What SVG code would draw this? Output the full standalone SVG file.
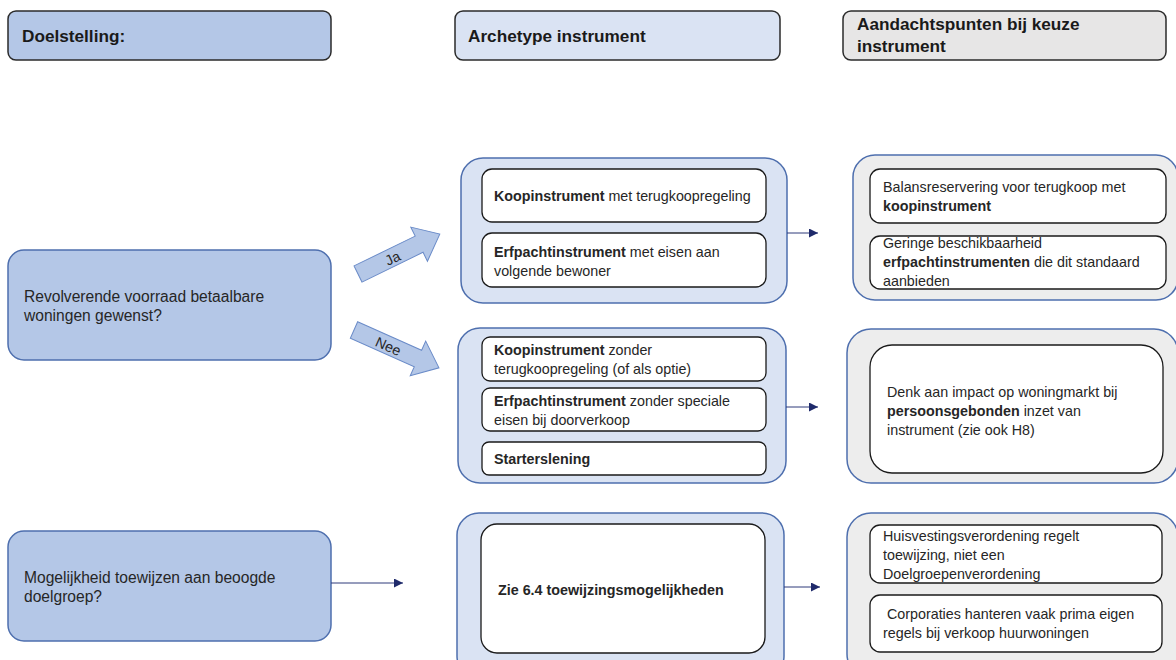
<svg xmlns="http://www.w3.org/2000/svg" width="1176" height="660" viewBox="0 0 1176 660">
<defs>
<style>
.t{font-family:"Liberation Sans",Arial,sans-serif;font-size:14.3px;fill:#262626}
.l{font-size:15.6px}
.h{font-family:"Liberation Sans",Arial,sans-serif;font-size:17.2px;font-weight:bold;fill:#1a1a1a}
.b{font-weight:bold}
.hdr{stroke:#2b2b2b;stroke-width:1.5}
.dark{fill:#B4C7E7;stroke:#4E6FAE;stroke-width:1.5}
.mid{fill:#DAE3F3;stroke:#4E6FAE;stroke-width:1.5}
.gray{fill:#EDEDED;stroke:#4E6FAE;stroke-width:1.5}
.in{fill:#fff;stroke:#1a1a1a;stroke-width:1.3}
.con{stroke:#2E3B7A;stroke-width:1;fill:none}
.blk{fill:#B4C7E7;stroke:#6A8BC8;stroke-width:1}
</style>
<marker id="ah" viewBox="0 0 10 10" refX="10" refY="5" markerWidth="9" markerHeight="9" markerUnits="userSpaceOnUse" orient="auto">
<path d="M0,0 L10,5 L0,10 z" fill="#1F2A6B"/>
</marker>
</defs>
<rect width="1176" height="660" fill="#fff"/>

<g id="hdr-doel">
<rect class="hdr" x="8" y="11" width="323" height="49" rx="8" fill="#B4C7E7"/>
<text class="h" x="22" y="42">Doelstelling:</text>
</g>
<g id="hdr-arch">
<rect class="hdr" x="455" y="11" width="325" height="49" rx="8" fill="#DAE3F3"/>
<text class="h" x="468" y="42">Archetype instrument</text>
</g>
<g id="hdr-aand">
<rect class="hdr" x="843" y="11" width="323" height="49" rx="8" fill="#E7E6E6"/>
<text class="h" x="857" y="30">Aandachtspunten bij keuze</text>
<text class="h" x="857" y="52">instrument</text>
</g>

<g id="q-revolverend">
<rect class="dark" x="8" y="250" width="323" height="110" rx="16"/>
<text class="t l" x="24" y="302">Revolverende voorraad betaalbare</text>
<text class="t l" x="24" y="321">woningen gewenst?</text>
</g>
<g id="q-toewijzen">
<rect class="dark" x="8" y="531" width="323" height="110" rx="16"/>
<text class="t l" x="24" y="583">Mogelijkheid toewijzen aan beoogde</text>
<text class="t l" x="24" y="602">doelgroep?</text>
</g>

<g id="arrow-ja" transform="translate(358,274) rotate(-26)">
<polygon class="blk" points="0,-9 68,-9 68,-19 91,0 68,19 68,9 0,9"/>
<text class="t" x="38" y="6" text-anchor="middle" font-size="15">Ja</text>
</g>
<g id="arrow-nee" transform="translate(354,330) rotate(24)">
<polygon class="blk" points="0,-9 70,-9 70,-19 93,0 70,19 70,9 0,9"/>
<text class="t" x="38" y="6" text-anchor="middle" font-size="15">Nee</text>
</g>

<g id="mid-ja">
<rect class="mid" x="461" y="158" width="326" height="145" rx="22"/>
<rect class="in" x="482" y="169" width="284" height="53" rx="10"/>
<text class="t" x="494" y="201"><tspan class="b">Koopinstrument</tspan> met terugkoopregeling</text>
<rect class="in" x="482" y="233" width="284" height="54" rx="10"/>
<text class="t" x="494" y="257"><tspan class="b">Erfpachtinstrument</tspan> met eisen aan</text>
<text class="t" x="494" y="276">volgende bewoner</text>
</g>

<g id="mid-nee">
<rect class="mid" x="458" y="328" width="328" height="155" rx="22"/>
<rect class="in" x="482" y="337" width="284" height="44" rx="8"/>
<text class="t" x="494" y="355"><tspan class="b">Koopinstrument</tspan> zonder</text>
<text class="t" x="494" y="374">terugkoopregeling (of als optie)</text>
<rect class="in" x="482" y="388" width="284" height="43" rx="8"/>
<text class="t" x="494" y="406"><tspan class="b">Erfpachtinstrument</tspan> zonder speciale</text>
<text class="t" x="494" y="425">eisen bij doorverkoop</text>
<rect class="in" x="482" y="442" width="284" height="33" rx="7"/>
<text class="t b" x="494" y="464">Starterslening</text>
</g>

<g id="mid-toewijzing">
<rect class="mid" x="457" y="513" width="327" height="165" rx="22"/>
<rect class="in" x="481" y="524" width="284" height="129" rx="16"/>
<text class="t b" x="498" y="595" font-size="13.9">Zie 6.4 toewijzingsmogelijkheden</text>
</g>

<g id="aand-ja">
<rect class="gray" x="853" y="155" width="325" height="145" rx="22"/>
<rect class="in" x="870" y="169" width="296" height="54" rx="10"/>
<text class="t" x="883" y="192">Balansreservering voor terugkoop met</text>
<text class="t b" x="883" y="211">koopinstrument</text>
<rect class="in" x="870" y="236" width="296" height="53" rx="10"/>
<text class="t" x="883" y="248">Geringe beschikbaarheid</text>
<text class="t" x="883" y="267"><tspan class="b">erfpachtinstrumenten</tspan> die dit standaard</text>
<text class="t" x="883" y="286">aanbieden</text>
</g>

<g id="aand-nee">
<rect class="gray" x="847" y="329" width="331" height="154" rx="24"/>
<rect class="in" x="870" y="345" width="293" height="128" rx="22"/>
<text class="t" x="887" y="397">Denk aan impact op woningmarkt bij</text>
<text class="t" x="887" y="416"><tspan class="b">persoonsgebonden</tspan> inzet van</text>
<text class="t" x="887" y="435">instrument (zie ook H8)</text>
</g>

<g id="aand-toewijzing">
<rect class="gray" x="847" y="513" width="331" height="165" rx="24"/>
<rect class="in" x="870" y="525" width="292" height="58" rx="10"/>
<text class="t" x="883" y="541">Huisvestingsverordening regelt</text>
<text class="t" x="883" y="560">toewijzing, niet een</text>
<text class="t" x="883" y="579">Doelgroepenverordening</text>
<rect class="in" x="870" y="595" width="292" height="57" rx="10"/>
<text class="t" x="887" y="619">Corporaties hanteren vaak prima eigen</text>
<text class="t" x="883" y="638">regels bij verkoop huurwoningen</text>
</g>

<g id="connectors">
<line class="con" x1="787" y1="233" x2="818" y2="233" marker-end="url(#ah)"/>
<line class="con" x1="786" y1="407" x2="818" y2="407" marker-end="url(#ah)"/>
<line class="con" x1="784" y1="587" x2="820" y2="587" marker-end="url(#ah)"/>
<line class="con" x1="331" y1="583" x2="403" y2="583" marker-end="url(#ah)"/>
</g>
</svg>
